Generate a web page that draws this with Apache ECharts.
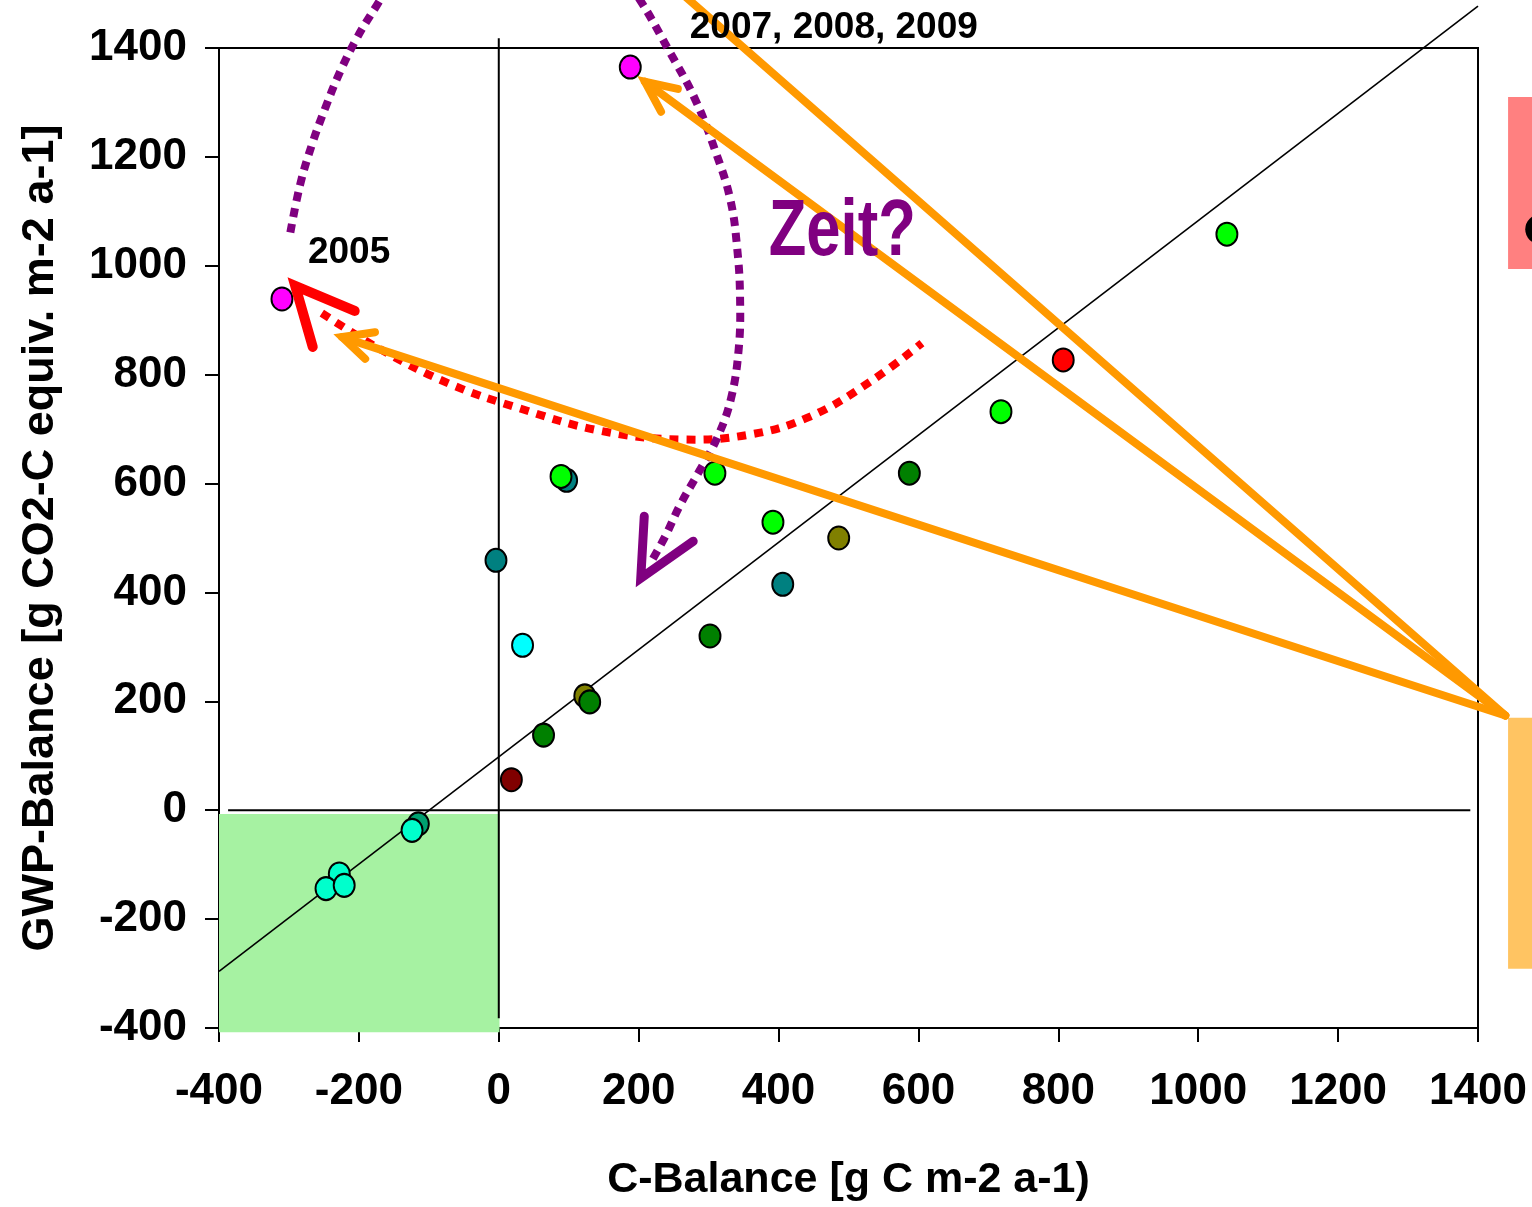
<!DOCTYPE html>
<html><head><meta charset="utf-8">
<script src="https://cdn.jsdelivr.net/npm/echarts@6/dist/echarts.min.js"></script>
<style>html,body{margin:0;padding:0;background:#fff}#c{width:1532px;height:1207px}</style>
</head><body><div id="c"></div>
<script>
// ---- axes ----
const xMin = -400, xMax = 1400, yMin = -400, yMax = 1400, tickStep = 200;
const xTitle = 'C-Balance [g C m-2 a-1)';
const yTitle = 'GWP-Balance [g CO2-C equiv. m-2 a-1]';

// ---- points (C-Balance, GWP-Balance) grouped by colour ----
const tealPts = [[-4, 459], [97, 606], [406, 415]];
const olivePts = [[123, 210], [486, 500]];
const darkGreenPts = [[64, 138], [130, 199], [302, 320], [587, 619]];
const greenPts = [[89, 613], [309, 619], [392, 529], [718, 732], [1041, 1058]];
const cyanPts = [[34, 303]];
const darkRedPts = [[18, 56]];
const redPts = [[807, 827]];
const magentaPts = [[-310, 939], [188, 1365]];
const seaGreenPts = [[-115, -25]];
const aquaPts = [[-228, -117], [-247, -144], [-221, -138], [-124, -37]];

// ---- reference lines ----
const oneToOneLine = [[-400, -296], [1400, 1477]];
const zeroXLine = [[0, -382], [0, 1418]];
const zeroYLine = [[-387, 0], [1389, 0]];

// ---- annotations (data coordinates) ----
const boxRanges = [[-400, -7, 1, -408], [1443, 1310, 1500, 994], [1443, 170, 1500, -291]];
const boxColors = ['#a6f2a2', '#ff8080', '#ffc462'];
const blackDot = [[1489, 1067]];
const orangeLine1 = [[1439, 174], [-224, 869]];
const orangeHead1 = [[-177, 878], [-224, 869], [-191, 829]];
const orangeLine2 = [[1439, 174], [209, 1338]];
const orangeHead2 = [[256, 1325], [209, 1338], [232, 1283]];
const orangeLine3 = [[1439, 174], [173, 1600]];
const redCurve = [[-253, 913], [-170, 847], [-70, 783], [30, 738], [145, 697], [259, 681], [359, 690], [445, 723], [531, 787], [605, 858]];
const redHead = [[-206, 917], [-291, 963], [-266, 851]];
const purpleCurve = [[-298, 1061], [-284, 1149], [-267, 1223], [-248, 1290], [-227, 1356], [-203, 1418], [-177, 1473], [-141, 1543], [-70, 1616], [16, 1649], [102, 1616], [166, 1552], [202, 1488], [243, 1396], [281, 1305], [309, 1213], [331, 1122], [341, 1030], [345, 939], [343, 847], [332, 756], [312, 683], [285, 619], [259, 560], [238, 503], [219, 459]];
const purpleHead = [[208, 540], [203, 426], [278, 494]];
const annoTexts = ['2005', '2007, 2008, 2009', 'Zeit?'];
const annoTextPos = [[-214, 1023], [479, 1438], [491, 1060]];

const FONT = "'Liberation Sans', Arial, Helvetica, sans-serif";

function scat(data, color, z) {
  return { type: 'scatter', data, symbol: 'circle', symbolSize: [21, 23], z: z || 5, silent: true,
    itemStyle: { color, borderColor: '#000', borderWidth: 2, opacity: 1 } };
}
function poly(pts, color, width, opts) {
  opts = opts || {};
  return { type: 'custom', silent: true, clip: false, z: opts.z || 6, data: [[pts[0][0], pts[0][1]]],
    renderItem: function (params, api) {
      return { type: 'polyline',
        shape: { points: pts.map(function (p) { return api.coord(p); }), smooth: opts.smooth || 0 },
        style: { stroke: color, lineWidth: width, fill: null, lineDash: opts.dash || null,
          lineCap: opts.cap || 'butt', lineJoin: opts.join || 'miter' } };
    } };
}

const plainLabel = function (v) { return String(v); };

const chart = echarts.init(document.getElementById('c'), null, { renderer: 'canvas' });
chart.setOption({
  animation: false,
  backgroundColor: '#fff',
  grid: { left: 219, right: 54, top: 48, bottom: 177, show: true, borderColor: '#000', borderWidth: 2, backgroundColor: 'transparent' },
  xAxis: {
    type: 'value', min: xMin, max: xMax, interval: tickStep,
    axisLine: { show: true, onZero: false, lineStyle: { color: '#000', width: 2 } },
    axisTick: { show: true, inside: false, length: 14, lineStyle: { color: '#000', width: 2 } },
    axisLabel: { color: '#000', fontFamily: FONT, fontWeight: 'bold', fontSize: 44, margin: 42, formatter: plainLabel },
    splitLine: { show: false },
    name: xTitle, nameLocation: 'middle', nameGap: 131,
    nameTextStyle: { color: '#000', fontFamily: FONT, fontWeight: 'bold', fontSize: 43 }
  },
  yAxis: {
    type: 'value', min: yMin, max: yMax, interval: tickStep,
    axisLine: { show: true, onZero: false, lineStyle: { color: '#000', width: 2 } },
    axisTick: { show: true, inside: false, length: 14, lineStyle: { color: '#000', width: 2 } },
    axisLabel: { color: '#000', fontFamily: FONT, fontWeight: 'bold', fontSize: 44, margin: 32, formatter: plainLabel },
    splitLine: { show: false },
    name: yTitle, nameLocation: 'middle', nameGap: 156,
    nameTextStyle: { color: '#000', fontFamily: FONT, fontWeight: 'bold', fontSize: 45 }
  },
  series: [
    { type: 'custom', silent: true, clip: false, z: 1,
      data: boxRanges,
      renderItem: function (params, api) {
        const p1 = api.coord([api.value(0), api.value(1)]);
        const p2 = api.coord([api.value(2), api.value(3)]);
        return { type: 'rect', shape: { x: Math.min(p1[0], p2[0]), y: Math.min(p1[1], p2[1]), width: Math.abs(p2[0] - p1[0]), height: Math.abs(p2[1] - p1[1]) },
          style: { fill: boxColors[params.dataIndex] } };
      } },
    { type: 'custom', silent: true, clip: false, z: 1,
      data: blackDot,
      renderItem: function (params, api) {
        const p = api.coord([api.value(0), api.value(1)]);
        return { type: 'circle', shape: { cx: p[0], cy: p[1], r: 15 }, style: { fill: '#000' } };
      } },
    poly(zeroXLine, '#000', 2, { z: 3 }),
    poly(zeroYLine, '#000', 2, { z: 3 }),
    poly(oneToOneLine, '#000', 1.6, { z: 3 }),
    scat(tealPts, '#008080'),
    scat(olivePts, '#808000'),
    scat(darkGreenPts, '#008000'),
    scat(greenPts, '#00ff00'),
    scat(cyanPts, '#00ffff'),
    scat(darkRedPts, '#800000'),
    scat(redPts, '#ff0000'),
    scat(magentaPts, '#ff00ff'),
    scat(seaGreenPts, '#00a070'),
    scat(aquaPts, '#00ffcc'),
    poly(redCurve, '#ff0000', 8, { dash: [9, 8], smooth: 0.4 }),
    poly(redHead, '#ff0000', 10, { cap: 'round', join: 'miter' }),
    poly(purpleCurve, '#800080', 8, { dash: [9, 7], smooth: 0.4 }),
    poly(purpleHead, '#800080', 9, { cap: 'round', join: 'miter' }),
    poly(orangeLine1, '#ff9900', 8, { cap: 'round', z: 7 }),
    poly(orangeHead1, '#ff9900', 8, { cap: 'round', join: 'miter', z: 7 }),
    poly(orangeLine2, '#ff9900', 8, { cap: 'round', z: 7 }),
    poly(orangeHead2, '#ff9900', 8, { cap: 'round', join: 'miter', z: 7 }),
    poly(orangeLine3, '#ff9900', 8, { cap: 'round', z: 7 }),
    { type: 'custom', silent: true, clip: false, z: 8,
      data: annoTextPos,
      renderItem: function (params, api) {
        const p = api.coord([api.value(0), api.value(1)]);
        const i = params.dataIndex;
        const isZeit = i === 2;
        return { type: 'text', x: p[0], y: p[1], scaleX: isZeit ? 0.77 : 1,
          style: { text: annoTexts[i], fill: isZeit ? '#800080' : '#000',
            font: 'bold ' + (isZeit ? 80 : 37) + 'px ' + FONT, align: 'center', verticalAlign: 'middle' } };
      } }
  ]
});
</script></body></html>
